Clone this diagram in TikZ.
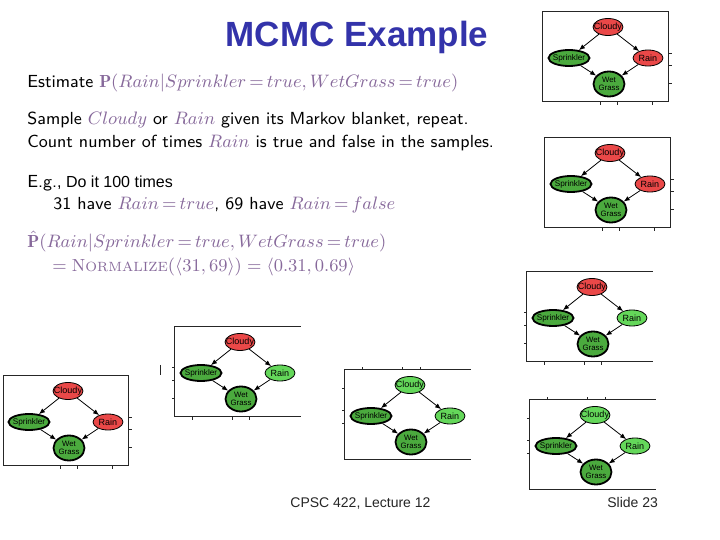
\documentclass[tikz,border=0pt]{standalone}
\usepackage{fontspec}
\newfontfamily\arialf{Liberation Sans}
\usetikzlibrary{arrows.meta,shapes.geometric}
\definecolor{titleblue}{RGB}{51,51,170}
\definecolor{mathc}{RGB}{135,105,155}
\definecolor{nred}{RGB}{234,72,72}
\definecolor{ngreen}{RGB}{100,215,90}
\definecolor{evgreen}{RGB}{75,170,62}
\newcommand\mc[1]{\textcolor{mathc}{$#1$}}
\newcommand\bnpanel[5]{%
  \node[clnode,#4] (#1C) at (#2,#3) {};
  \node[spnode] (#1S) at ({#2-39},{#3+31}) {};
  \node[rnnode,#5] (#1R) at ({#2+40},{#3+31}) {};
  \node[wgnode] (#1W) at ({#2+1},{#3+57}) {};
  \node[bnlabel] (#1Ct) at (#1C) {Cloudy};
  \node[bnlabel, font=\arialf\fontsize{4.1}{4.3}\selectfont] (#1St) at (#1S) {Sprinkler};
  \node[bnlabel] (#1Rt) at (#1R) {Rain};
  \node[bnlabel, font=\arialf\fontsize{3.9}{4.1}\selectfont] (#1Wt) at (#1W) {Wet\\Grass};
  \draw[arr] (#1C) -- (#1S);
  \draw[arr] (#1C) -- (#1R);
  \draw[arr] (#1S) -- (#1W);
  \draw[arr] (#1R) -- (#1W);
}
% full frame, ticks right and bottom
\newcommand\frameA[2]{%
  \draw[framel] ({#1-65},{#2-15}) rectangle ({#1+61},{#2+75});
  \foreach \t in {26,38,56} \draw[tickl] ({#1+61},{#2+\t}) -- ({#1+64},{#2+\t});
  \foreach \t in {-8,9,44} \draw[tickl] ({#1+\t},{#2+75}) -- ({#1+\t},{#2+78});
}
% top, left, bottom; ticks left and bottom
\newcommand\frameC[2]{%
  \draw[framel] ({#1+61},{#2-15}) -- ({#1-65},{#2-15}) -- ({#1-65},{#2+75}) -- ({#1+61},{#2+75});
  \foreach \t in {25,38,56} \draw[tickl] ({#1-65},{#2+\t}) -- ({#1-68},{#2+\t});
  \foreach \t in {-48,-8,9} \draw[tickl] ({#1+\t},{#2+75}) -- ({#1+\t},{#2+78});
}
% top, left, bottom; ticks top and left
\newcommand\frameF[2]{%
  \draw[framel] ({#1+61},{#2-15}) -- ({#1-65},{#2-15}) -- ({#1-65},{#2+75}) -- ({#1+61},{#2+75});
  \foreach \t in {-48,-8,10} \draw[tickl] ({#1+\t},{#2-15}) -- ({#1+\t},{#2-18});
  \foreach \t in {3,25,38} \draw[tickl] ({#1-65},{#2+\t}) -- ({#1-68},{#2+\t});
}
\begin{document}
\begin{tikzpicture}[x=0.5pt,y=-0.5pt,
  bn/.style={ellipse, draw=black, line width=0.4pt, inner sep=0pt},
  clnode/.style={bn, minimum width=15pt, minimum height=8.5pt},
  rnnode/.style={bn, minimum width=15pt, minimum height=8pt},
  spnode/.style={bn, minimum width=20.5pt, minimum height=8pt, fill=evgreen, line width=0.9pt},
  wgnode/.style={bn, minimum width=15.5pt, minimum height=12.5pt, fill=evgreen, line width=0.9pt},
  hotnode/.style={fill=nred},
  coolnode/.style={fill=ngreen},
  bnlabel/.style={inner sep=0pt, align=center, text=black, font=\arialf\fontsize{4.5}{4.6}\selectfont},
  arr/.style={-{Latex[length=3pt,width=2.4pt]}, line width=0.4pt},
  framel/.style={line width=0.5pt, black!85},
  tickl/.style={line width=0.4pt, black!85},
  body/.style={anchor=base west, inner sep=0pt, font=\sffamily\fontsize{8.75}{10}\selectfont}
]
\useasboundingbox (0,0) rectangle (720,540);
\fill[white] (0,0) rectangle (720,540);

\node[anchor=base, inner sep=0pt, text=titleblue, font=\arialf\bfseries\fontsize{17.5}{20}\selectfont] (title) at (357,47) {MCMC Example};

\node[body] (l1) at (27,88) {Estimate \mc{\mathbf{P}(Rain|Sprinkler\,{=}\,true,WetGrass\,{=}\,true)}};
\node[body] (l2) at (27,125) {Sample \mc{Cloudy} or \mc{Rain} given its Markov blanket, repeat.};
\node[body] (l3) at (27,148) {Count number of times \mc{Rain} is true and false in the samples.};
\node[body] (l4) at (27,188) {E.g.\arialf\fontsize{8}{9}\selectfont, Do it 100 times};
\node[body] (l5) at (53,210) {31 have \mc{Rain\,{=}\,true}, 69 have \mc{Rain\,{=}\,false}};
\node[body, text=mathc] (l6) at (27,248) {$\hat{\mathbf{P}}(Rain|Sprinkler\,{=}\,true,WetGrass\,{=}\,true)$};
\node[body, text=mathc] (l7) at (52,272) {$=\mbox{\rmfamily N\fontsize{6.7}{8}\selectfont ORMALIZE}(\langle 31,69\rangle)=\langle 0.31,0.69\rangle$};

\frameA{608}{27}
\bnpanel{a}{608}{27}{hotnode}{hotnode}
\frameA{610}{153}
\bnpanel{b}{610}{153}{hotnode}{hotnode}
\frameC{592}{287}
\bnpanel{c}{592}{287}{hotnode}{coolnode}
\frameC{240}{342}
\bnpanel{d}{240}{342}{hotnode}{coolnode}
\draw[tickl] (160,365) -- (160,375);
\frameA{68}{391}
\bnpanel{e}{68}{391}{hotnode}{hotnode}
\frameF{410}{385}
\bnpanel{f}{410}{385}{coolnode}{coolnode}
\frameF{595}{415}
\bnpanel{g}{595}{415}{coolnode}{coolnode}

\node[anchor=base west, inner sep=0pt, text=black!85, font=\arialf\fontsize{7}{8}\selectfont] (foot) at (290,508) {CPSC 422, Lecture 12};
\node[anchor=base west, inner sep=0pt, text=black!85, font=\arialf\fontsize{7}{8}\selectfont] (slide) at (607,508) {Slide 23};
\end{tikzpicture}
\end{document}
